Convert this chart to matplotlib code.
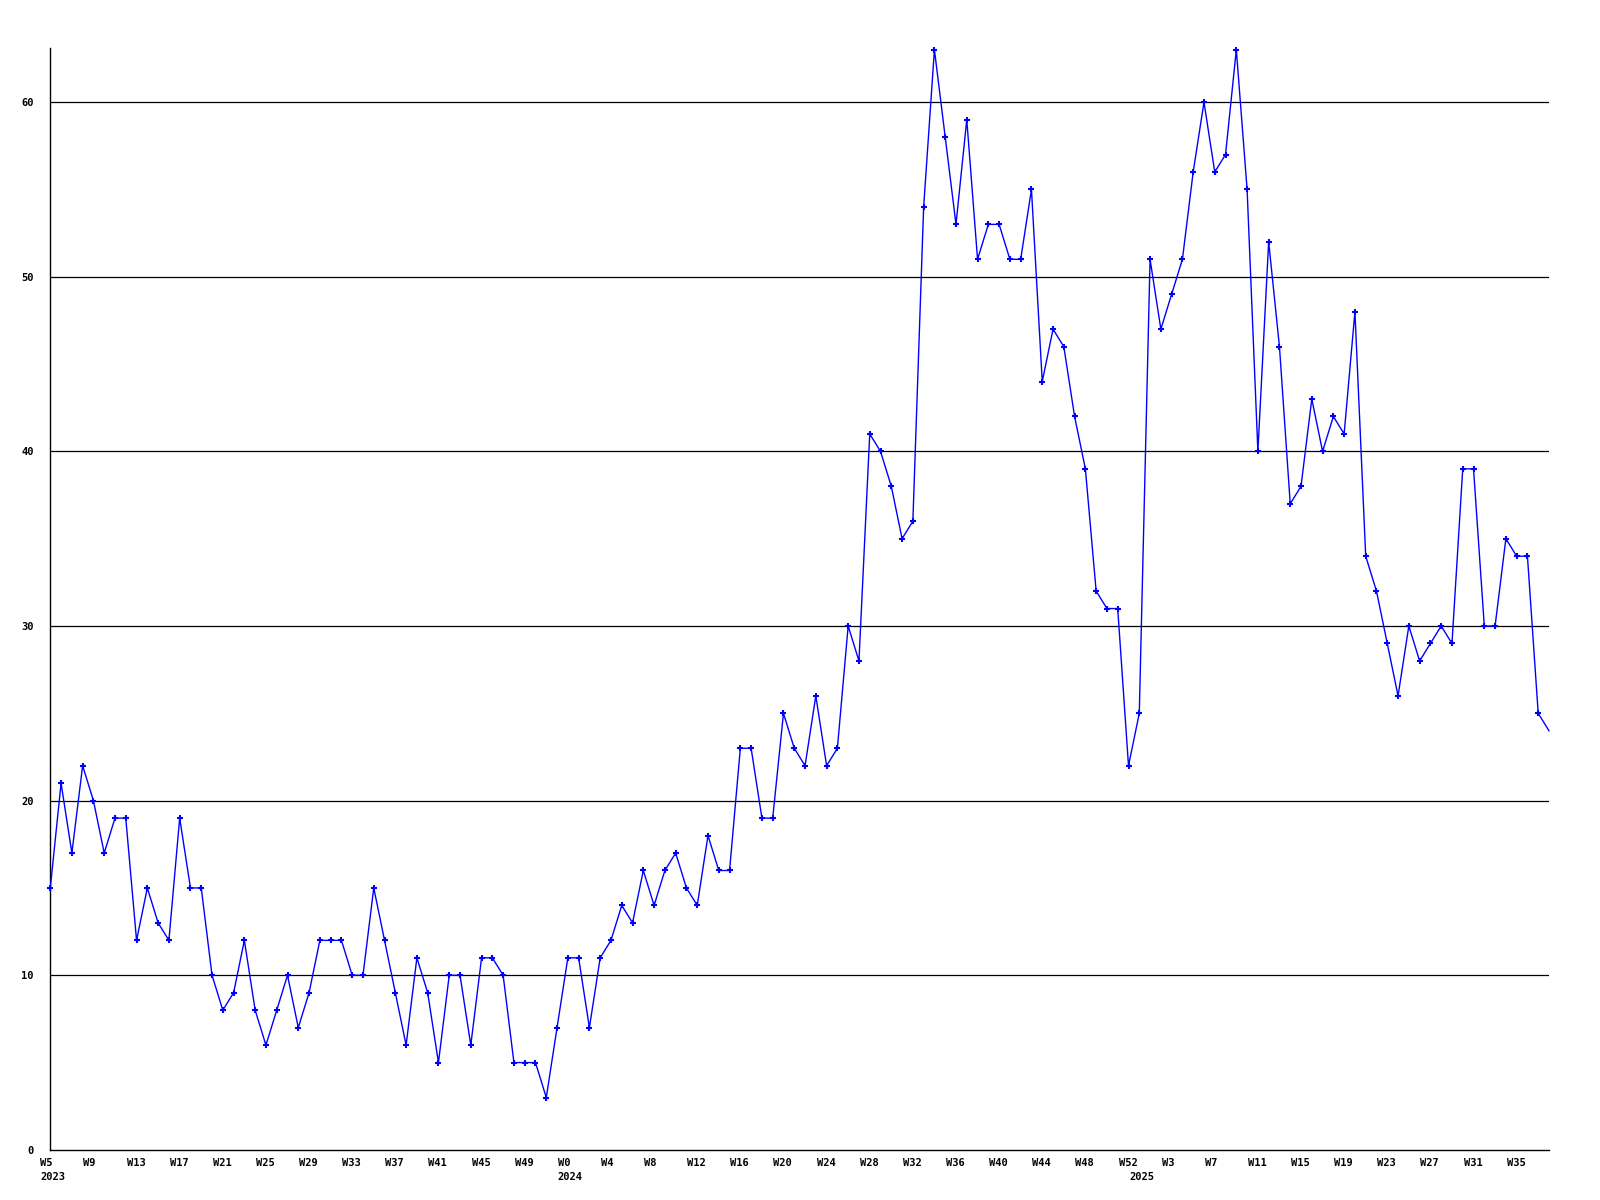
import matplotlib
matplotlib.use("Agg")
import matplotlib.pyplot as plt
import matplotlib.transforms as mtransforms

# ---- data ----
years = [2023, 2024, 2025]
first_week = [5, 0, 0]
n_weeks = [48, 53, 39]

values = [
    15, 21, 17, 22, 20, 17, 19, 19, 12, 15,
    13, 12, 19, 15, 15, 10, 8, 9, 12, 8,
    6, 8, 10, 7, 9, 12, 12, 12, 10, 10,
    15, 12, 9, 6, 11, 9, 5, 10, 10, 6,
    11, 11, 10, 5, 5, 5, 3, 7, 11, 11,
    7, 11, 12, 14, 13, 16, 14, 16, 17, 15,
    14, 18, 16, 16, 23, 23, 19, 19, 25, 23,
    22, 26, 22, 23, 30, 28, 41, 40, 38, 35,
    36, 54, 63, 58, 53, 59, 51, 53, 53, 51,
    51, 55, 44, 47, 46, 42, 39, 32, 31, 31,
    22, 25, 51, 47, 49, 51, 56, 60, 56, 57,
    63, 55, 40, 52, 46, 37, 38, 43, 40, 42,
    41, 48, 34, 32, 29, 26, 30, 28, 29, 30,
    29, 39, 39, 30, 30, 35, 34, 34, 25, 24,
]
y_ticks = [0, 10, 20, 30, 40, 50, 60]

# ---- build week labels ----
week_labels = []
year_starts = []
for yr, fw, nw in zip(years, first_week, n_weeks):
    year_starts.append(len(week_labels))
    for k in range(nw):
        week_labels.append(f"W{fw + k}")

x = list(range(len(values)))
tick_idx = list(range(0, len(values), 4))

fig = plt.figure(figsize=(16, 12), dpi=100)
left = 50.3 / 1600
right = 1549 / 1600
bottom = (1200 - 1149.9) / 1200
top = (1200 - 48.0) / 1200
ax = fig.add_axes([left, bottom, right - left, top - bottom])

blue = "#0000ff"
ax.plot(x, values, color=blue, lw=1.0, marker="+", ms=4.5, mew=1.5,
        markevery=slice(0, len(values) - 1), zorder=3, clip_on=False)

for yv in y_ticks[1:]:
    ax.axhline(yv, color="black", lw=0.9, zorder=1)

ax.set_xlim(0, len(values) - 1)
ax.set_ylim(0, 63.1)

for s in ["top", "right"]:
    ax.spines[s].set_visible(False)
for s in ["left", "bottom"]:
    ax.spines[s].set_color("black")
    ax.spines[s].set_linewidth(1.0)

font = dict(family="DejaVu Sans Mono", weight="bold", size=7.5)

ax.set_yticks(y_ticks)
ax.set_yticklabels([str(v) for v in y_ticks], **font)
ax.tick_params(axis="y", length=0, pad=12)

ax.set_xticks(tick_idx)
ax.set_xticklabels([week_labels[i] for i in tick_idx], **font)
ax.tick_params(axis="x", length=0, pad=6)
offset = mtransforms.ScaledTranslation(-10 / 100, 0, fig.dpi_scale_trans)
for lab in ax.get_xticklabels():
    lab.set_ha("left")
    lab.set_transform(lab.get_transform() + offset)

trans = mtransforms.blended_transform_factory(ax.transData, ax.transAxes)
year_off = mtransforms.ScaledTranslation(-10 / 100, -22 / 100, fig.dpi_scale_trans)
for yr, idx in zip(years, year_starts):
    ax.text(idx, 0, str(yr), transform=trans + year_off, ha="left", va="top",
            clip_on=False, **font)

fig.savefig("out.png", dpi=100, facecolor="white")
